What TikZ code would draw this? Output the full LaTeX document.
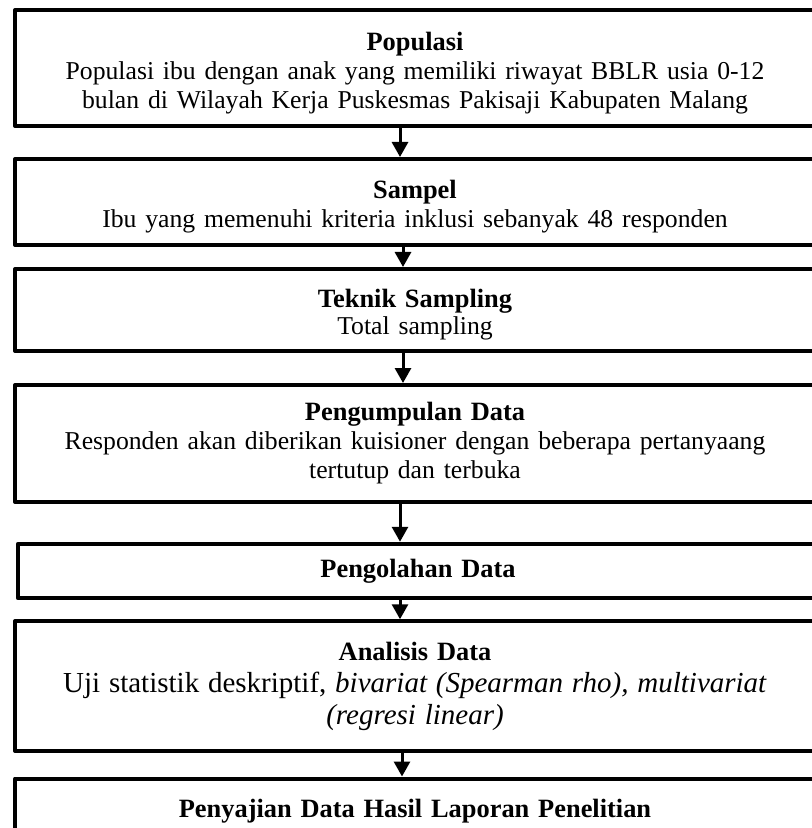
\documentclass[tikz,border=0pt]{standalone}
\usepackage{fontspec}
\setmainfont{Liberation Serif}
\usetikzlibrary{arrows.meta}

\newcommand{\isi}{\fontsize{12.85}{14.5}\selectfont}
\newcommand{\besar}{\fontsize{14.5}{16}\selectfont}

\begin{document}
\begin{tikzpicture}[x=1pt,y=-1pt,
    box/.style={draw, line width=2pt, line join=round, minimum width=400pt,
        text width=390pt, align=center, inner sep=0pt,
        font=\fontsize{13.2}{14.5}\selectfont},
    arr/.style={line width=1.5pt, -{Triangle[width=8pt,length=7.5pt]}}]
    \useasboundingbox (0,0) rectangle (405.5,414);

    % kotak alur penelitian
    \node[box, minimum height=58pt] (populasi) at (207.5,34)
        {\rule{0pt}{14pt}\textbf{Populasi}\\
         {\isi Populasi ibu dengan anak yang memiliki riwayat BBLR usia 0-12}\\
         {\isi bulan di Wilayah Kerja Puskesmas Pakisaji Kabupaten Malang}};
    \node[box, minimum height=43pt] (sampel) at (207.5,101)
        {\rule{0pt}{14pt}\textbf{Sampel}\\
         {\isi Ibu yang memenuhi kriteria inklusi sebanyak 48 responden}};
    \node[box, minimum height=41pt] (teknik) at (207.5,155)
        {\rule{0pt}{14pt}\textbf{Teknik Sampling}\\[-1pt]
         {\isi Total sampling}};
    \node[box, minimum height=58.5pt] (kumpul) at (207.5,221.75)
        {\textbf{Pengumpulan Data}\\
         {\isi Responden akan diberikan kuisioner dengan beberapa pertanyaang}\\
         {\isi tertutup dan terbuka}};
    \node[box, minimum height=27.25pt] (olah) at (209,285.5)
        {\textbf{Pengolahan Data}};
    \node[box, minimum height=64.75pt, font=\fontsize{13.2}{16}\selectfont] (analisis) at (207.5,343)
        {\textbf{Analisis Data}\\
         {\besar Uji statistik deskriptif, \textit{bivariat (Spearman rho), multivariat}}\\
         {\besar\textit{(regresi linear)}}};
    \node[box, minimum height=32.5pt] (saji) at (207.5,405.5)
        {\textbf{Penyajian Data Hasil Laporan Penelitian}};

    % panah
    \draw[arr] ([xshift=-7.5pt]populasi.south) -- ([xshift=-7.5pt]sampel.north);
    \draw[arr] ([xshift=-6pt]sampel.south) -- ([xshift=-6pt]teknik.north);
    \draw[arr] ([xshift=-6pt]teknik.south) -- ([xshift=-6pt]kumpul.north);
    \draw[arr] ([xshift=-7.5pt]kumpul.south) -- ([xshift=-9pt]olah.north);
    \draw[arr] ([xshift=-9pt]olah.south) -- ([xshift=-7.5pt]analisis.north);
    \draw[arr] ([xshift=-6.5pt]analisis.south) -- ([xshift=-6.5pt]saji.north);
\end{tikzpicture}
\end{document}
